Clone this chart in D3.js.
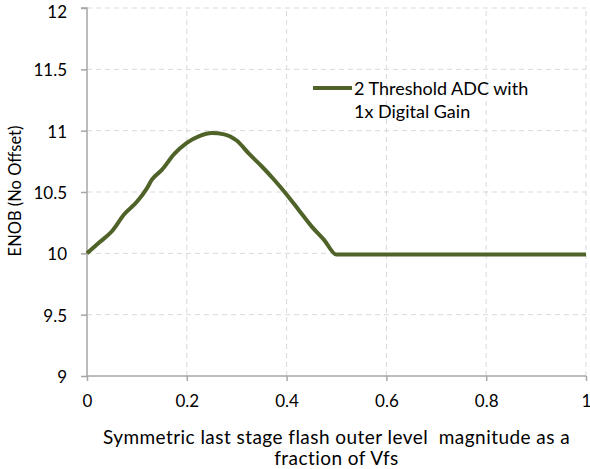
<!DOCTYPE html>
<html><head><meta charset="utf-8">
<script src="https://cdn.jsdelivr.net/npm/d3@7"></script>
<style>body{margin:0;background:#fff}svg{display:block}text{font-family:Lato,"Open Sans",sans-serif;fill:#000;white-space:pre}</style>
</head><body>
<script>
const xValues = [0,0.025,0.05,0.075,0.1,0.12,0.13,0.15,0.175,0.2,0.225,0.25,0.275,0.3,0.325,0.35,0.375,0.4,0.425,0.45,0.475,0.5,0.6,0.7,0.8,0.9,1.0];
const enob    = [10.0,10.09,10.18,10.32,10.42,10.53,10.60,10.68,10.81,10.90,10.955,10.98,10.97,10.92,10.81,10.71,10.60,10.48,10.35,10.22,10.11,9.99,9.99,9.99,9.99,9.99,9.99];
const xTicks = [0,0.2,0.4,0.6,0.8,1];
const yTicks = [9,9.5,10,10.5,11,11.5,12];
const seriesName = ["2 Threshold ADC with","1x Digital Gain"];
const xTitle = ["Symmetric last stage flash outer level  magnitude as a","fraction of Vfs"];
const yTitle = "ENOB (No Offset)";

const W=590,H=469;
const svg=d3.select("body").append("svg").attr("width",W).attr("height",H);
const x=d3.scaleLinear().domain([0,1]).range([87,586]);
const y=d3.scaleLinear().domain([9,12]).range([376,8]);
const grid="#d9d9d9", axisC="#a6a6a6", lineC="#4f6228";

// gridlines
svg.append("g").selectAll("line").data(yTicks.filter(d=>d>9)).join("line")
  .attr("x1",x(0)).attr("x2",x(1)).attr("y1",d=>y(d)).attr("y2",d=>y(d))
  .attr("stroke",grid).attr("stroke-width",1).attr("stroke-dasharray","5,4");
svg.append("g").selectAll("line").data(xTicks.filter(d=>d>0)).join("line")
  .attr("x1",d=>x(d)).attr("x2",d=>x(d)).attr("y1",y(9)).attr("y2",y(12))
  .attr("stroke",grid).attr("stroke-width",1).attr("stroke-dasharray","5,4");

// axes
const yAxis=svg.append("g").attr("transform",`translate(${x(0)},0)`)
  .call(d3.axisLeft(y).tickValues(yTicks).tickFormat(d3.format("")).tickSize(6).tickPadding(14));
const xAxis=svg.append("g").attr("transform",`translate(0,${y(9)})`)
  .call(d3.axisBottom(x).tickValues(xTicks).tickFormat(d3.format("")).tickSize(5).tickPadding(14));
[yAxis,xAxis].forEach(g=>{
  g.select(".domain").attr("stroke",axisC).attr("stroke-width",1.5);
  g.selectAll(".tick line").attr("stroke",axisC).attr("stroke-width",1.5);
  g.selectAll(".tick text").attr("font-size",17).attr("font-family","Lato").attr("fill","#000");
});
yAxis.selectAll(".tick text").attr("dy",d=>d===12?"0.53em":"0.38em");
yAxis.select(".domain").attr("d",`M-6,${y(12)}H0V${y(9)}`);
xAxis.select(".domain").attr("d",`M${x(0)},0H${x(1)}`);

// line
svg.append("path").datum(xValues.map((v,i)=>[v,enob[i]]))
  .attr("fill","none").attr("stroke",lineC).attr("stroke-width",4).attr("stroke-linejoin","round")
  .attr("d",d3.line().x(d=>x(d[0])).y(d=>y(d[1])).curve(d3.curveMonotoneX));

// legend
svg.append("line").attr("x1",313).attr("x2",352).attr("y1",88).attr("y2",88)
  .attr("stroke",lineC).attr("stroke-width",4);
svg.append("text").attr("x",354).attr("y",94.5).attr("font-size",18).text(seriesName[0]);
svg.append("text").attr("x",354).attr("y",118).attr("font-size",18).text(seriesName[1]);

// titles
svg.append("text").attr("x",336.5).attr("y",444).attr("text-anchor","middle").attr("font-size",19).attr("letter-spacing",0.45).text(xTitle[0]);
svg.append("text").attr("x",336.5).attr("y",465).attr("text-anchor","middle").attr("font-size",19).attr("letter-spacing",0.45).text(xTitle[1]);
svg.append("text").attr("transform","translate(21,191) rotate(-90)").attr("text-anchor","middle").attr("font-size",16.5).text(yTitle);
</script>
</body></html>
